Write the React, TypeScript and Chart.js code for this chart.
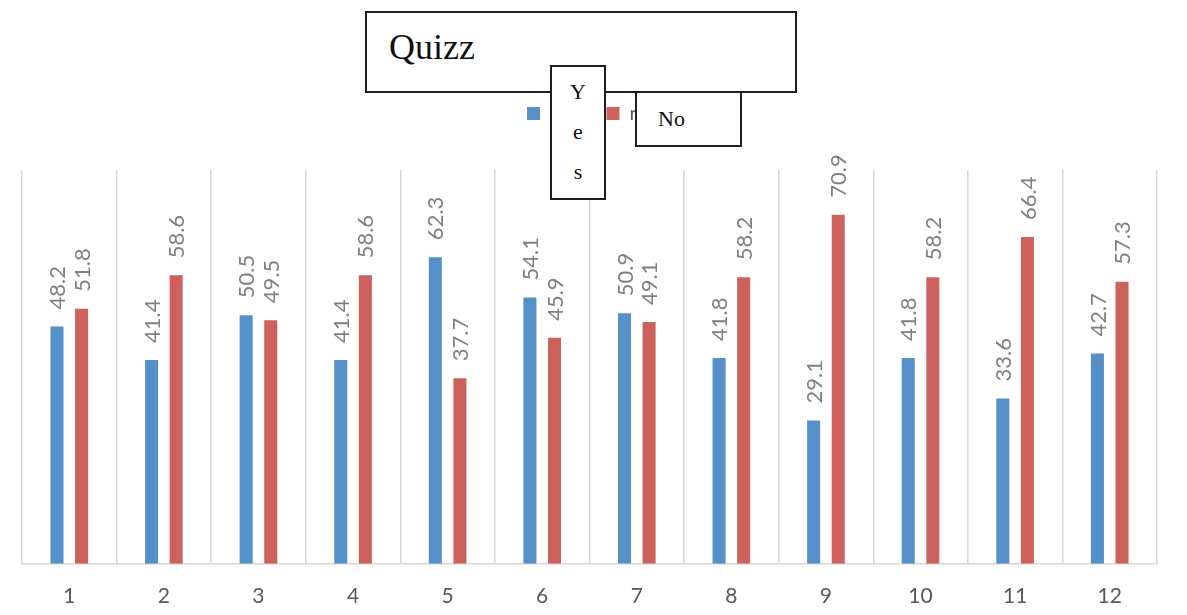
import React, { useEffect, useRef } from "react";
import { Chart, registerables } from "chart.js";

Chart.register(...registerables);

// ---- data ----
const categories = ["1", "2", "3", "4", "5", "6", "7", "8", "9", "10", "11", "12"];
const yesValues = [48.2, 41.4, 50.5, 41.4, 62.3, 54.1, 50.9, 41.8, 29.1, 41.8, 33.6, 42.7];
const noValues = [51.8, 58.6, 49.5, 58.6, 37.7, 45.9, 49.1, 58.2, 70.9, 58.2, 66.4, 57.3];
const seriesNames = ["si", "no"];
const titleText = "Quizz";
const overlayYesText = "Yes";
const overlayNoText = "No";
const yMin = 0;
const yMax = 80;

const valueLabels = {
  id: "valueLabels",
  afterDatasetsDraw(chart: any) {
    const ctx = chart.ctx;
    ctx.save();
    ctx.font = "22px Lato";
    ctx.fillStyle = "#808080";
    ctx.textAlign = "left";
    ctx.textBaseline = "middle";
    chart.data.datasets.forEach((ds: any, di: number) => {
      const meta = chart.getDatasetMeta(di);
      meta.data.forEach((bar: any, i: number) => {
        const v = ds.data[i];
        ctx.save();
        ctx.translate(bar.x, bar.y - 17);
        ctx.rotate(-Math.PI / 2);
        ctx.fillText(Number(v).toFixed(1), 0, 1);
        ctx.restore();
      });
    });
    ctx.restore();
  },
};

const legendSpacer = {
  id: "legendSpacer",
  beforeInit(chart: any) {
    const legend = chart.legend;
    if (!legend) return;
    const orig = legend.fit;
    legend.fit = function () {
      orig.call(this);
      this.height += 36.5;
    };
  },
};

const boxBase: React.CSSProperties = {
  position: "absolute",
  boxSizing: "border-box",
  border: "2px solid #1e1e1e",
  background: "#ffffff",
  fontFamily: "'Liberation Serif', 'DejaVu Serif', serif",
  color: "#111",
};

export default function App() {
  const canvasRef = useRef<HTMLCanvasElement | null>(null);

  useEffect(() => {
    if (!canvasRef.current) return;
    const chart = new Chart(canvasRef.current, {
      type: "bar",
      data: {
        labels: categories,
        datasets: [
          {
            label: seriesNames[0],
            data: yesValues,
            backgroundColor: "#5690c9",
            borderWidth: 0,
            categoryPercentage: 0.52,
            barPercentage: 0.53,
          },
          {
            label: seriesNames[1],
            data: noValues,
            backgroundColor: "#cc625b",
            borderWidth: 0,
            categoryPercentage: 0.52,
            barPercentage: 0.53,
          },
        ],
      },
      options: {
        responsive: false,
        animation: false,
        devicePixelRatio: 1,
        layout: { padding: { left: 22, right: 30, top: 60.5, bottom: -14 } },
        plugins: {
          legend: {
            display: true,
            position: "top",
            labels: {
              boxWidth: 13,
              boxHeight: 13,
              padding: 43,
              color: "#595959",
              font: { family: "Lato", size: 20 },
            },
          },
          title: { display: false },
          tooltip: { enabled: false },
        },
        scales: {
          x: {
            grid: { color: "#d9d6d3", lineWidth: 1.5, drawTicks: false, offset: true },
            border: { color: "#d9d6d3", width: 1.5 },
            ticks: {
              color: "#595959",
              font: { family: "Lato", size: 21 },
              padding: 20,
            },
          },
          y: {
            display: false,
            min: yMin,
            max: yMax,
          },
        },
      },
      plugins: [legendSpacer, valueLabels],
    } as any);
    return () => chart.destroy();
  }, []);

  return (
    <div
      style={{
        position: "fixed",
        left: 0,
        top: 0,
        width: 1187,
        height: 615,
        background: "#ffffff",
        overflow: "hidden",
      }}
    >
      <canvas ref={canvasRef} width={1187} height={615} style={{ position: "absolute", left: 0, top: 0 }} />
      <div
        style={{
          ...boxBase,
          left: 365,
          top: 11,
          width: 432,
          height: 82,
          fontSize: 36,
          paddingLeft: 22,
          paddingTop: 14,
          lineHeight: "40px",
        }}
      >
        {titleText}
      </div>
      <div
        style={{
          ...boxBase,
          left: 635,
          top: 91,
          width: 107,
          height: 56,
          fontSize: 22,
          paddingLeft: 21,
          lineHeight: "52px",
        }}
      >
        {overlayNoText}
      </div>
      <div
        style={{
          ...boxBase,
          left: 550,
          top: 65,
          width: 56,
          height: 135,
          fontSize: 22,
          paddingTop: 5,
          lineHeight: "40px",
        }}
      >
        <div style={{ width: 18, margin: "0 auto", textAlign: "center", wordBreak: "break-all" }}>
          {overlayYesText}
        </div>
      </div>
    </div>
  );
}
